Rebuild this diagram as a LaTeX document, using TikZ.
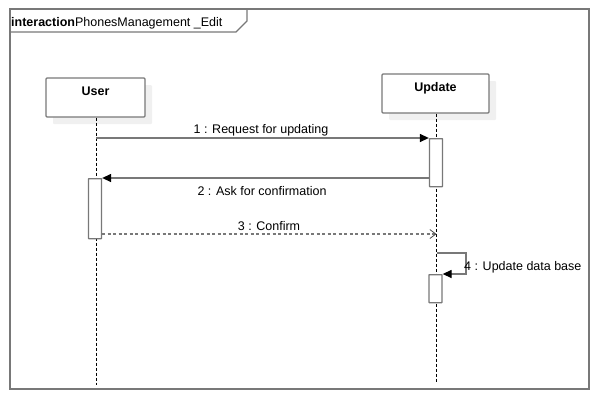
\documentclass[tikz,border=0pt]{standalone}
\usepackage{fontspec}
\setmainfont{Liberation Sans}
\usetikzlibrary{shadows,arrows.meta}
\definecolor{linegray}{RGB}{120,120,120}
\definecolor{shadowgray}{RGB}{240,240,240}
\tikzset{
  lifebox/.style={draw=linegray, line width=1.3pt, fill=white, rounded corners=1pt,
    drop shadow={shadow xshift=7pt, shadow yshift=-7pt, fill=shadowgray, opacity=1},
    font=\fontsize{12.5}{14}\selectfont\bfseries, text height=9pt, text depth=13pt},
  actbox/.style={draw=linegray, line width=1.3pt, fill=white, rounded corners=0.5pt, inner sep=0pt},
  lifeline/.style={draw=black, line width=0.8pt, dash pattern=on 3pt off 2pt},
  msg/.style={draw=linegray, line width=1.3pt, -{Triangle[length=9pt,width=8pt,fill=black,color=black]}},
  reply/.style={draw=linegray, line width=1.3pt, dash pattern=on 3pt off 2.5pt, -{Straight Barb[length=6pt,width=9pt,line width=0.8pt,color=black!70]}},
  lbl/.style={font=\fontsize{12.5}{14}\selectfont, inner sep=0pt},
  framebox/.style={draw=linegray, line width=1.3pt}
}
\begin{document}
\begin{tikzpicture}[x=1pt,y=-1pt]
\useasboundingbox (0,0) rectangle (599,400);
% frame
\draw[framebox] (10,9) rectangle (589,389);
\draw[framebox] (10,32) -- (236,32) -- (247,21) -- (247,9);
\node[lbl, anchor=base west] (title) at (11,26) {\textbf{interaction}PhonesManagement \_Edit};
% lifeline heads
\node[lifebox, minimum width=99pt, minimum height=39pt] (user) at (95.5,97.5) {User};
\node[lifebox, minimum width=107pt, minimum height=39pt] (upd) at (435.5,93.5) {Update};
% lifeline ends
\coordinate (userend) at (96,385);
\coordinate (updend) at (436.5,383);
\draw[lifeline] (user.south -| userend) -- (userend);
\draw[lifeline] (upd.south -| updend) -- (updend);
% activations
\node[actbox, minimum width=13pt, minimum height=48pt, anchor=north] (a1) at (436,138) {};
\node[actbox, minimum width=13pt, minimum height=60pt, anchor=north] (a2) at (95,178) {};
\node[actbox, minimum width=13pt, minimum height=28pt, anchor=north] (a3) at (435.5,274) {};
% messages
\coordinate (m1s) at (96,138);
\draw[msg] (m1s) -- (a1.north west);
\node[lbl, anchor=base] (l1) at (261,133) {1 : Request for updating};
\draw[msg] (a1.west |- 0,178) -- (a2.north east);
\node[lbl, anchor=base] (l2) at (262,195) {2 : Ask for confirmation};
\coordinate (m3e) at (436.5,234);
\draw[reply] (a2.east |- 0,234) -- (m3e);
\node[lbl, anchor=base] (l3) at (269,230) {3 : Confirm};
\coordinate (m4s) at (436.5,253);
\draw[msg] (m4s) -- (466,253) -- (466,274) -- (a3.north east);
\node[lbl, anchor=base west] (l4) at (464,270) {4 : Update data base};
\end{tikzpicture}
\end{document}
